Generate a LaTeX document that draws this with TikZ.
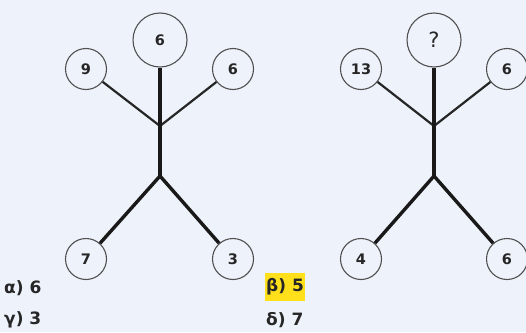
\documentclass[tikz,border=0pt]{standalone}
\usepackage{fontspec}
\setmainfont{DejaVu Sans}
\definecolor{bgc}{HTML}{EEF2FA}
\definecolor{ringc}{HTML}{505050}
\definecolor{txtc}{HTML}{262626}
\definecolor{hl}{HTML}{FFE01A}
\begin{document}
\begin{tikzpicture}[x=1pt,y=-1pt,
  big/.style={circle,draw=ringc,line width=1.1pt,fill=bgc,minimum size=54pt,inner sep=0pt,font=\fontsize{14.5}{14.5}\selectfont\bfseries,text=txtc},
  small/.style={circle,draw=ringc,line width=1.1pt,fill=bgc,minimum size=41pt,inner sep=0pt,font=\fontsize{14.5}{14.5}\selectfont\bfseries,text=txtc},
  thinbr/.style={draw=black!85,line width=2.2pt},
  thickbr/.style={draw=black!90,line width=3.4pt},
  ans/.style={anchor=west,inner sep=0pt,font=\fontsize{17}{17}\selectfont\bfseries,text=txtc}]
\fill[bgc] (0,0) rectangle (526,332);
\useasboundingbox (0,0) rectangle (526,332);
% left tree
\coordinate (j1) at (160,126);
\coordinate (k1) at (160,176);
\node[big] (t1) at (160,40) {6};
\node[small] (a1) at (86,69) {9};
\node[small] (b1) at (233,69) {6};
\node[small] (c1) at (86,259) {7};
\node[small] (d1) at (233,259) {3};
\draw[thinbr] (j1) -- (a1);
\draw[thinbr] (j1) -- (b1);
\draw[thickbr] (t1) -- (k1);
\draw[thickbr] (k1) -- (c1);
\draw[thickbr] (k1) -- (d1);
% right tree
\coordinate (j2) at (434,126);
\coordinate (k2) at (434,176);
\node[big,font=\fontsize{21}{21}\selectfont] (t2) at (434,40) {?};
\node[small] (a2) at (361,69) {13};
\node[small] (b2) at (507,69) {6};
\node[small] (c2) at (361,259) {4};
\node[small] (d2) at (507,259) {6};
\draw[thinbr] (j2) -- (a2);
\draw[thinbr] (j2) -- (b2);
\draw[thickbr] (t2) -- (k2);
\draw[thickbr] (k2) -- (c2);
\draw[thickbr] (k2) -- (d2);
% answers
\node[ans] (alpha) at (4,288) {α) 6};
\node[ans] (gamma) at (4,320) {γ) 3};
\node[ans,fill=hl,inner xsep=1pt,inner ysep=6pt] (beta) at (265,287) {β) 5};
\node[ans] (delta) at (266,320) {δ) 7};
\end{tikzpicture}
\end{document}
